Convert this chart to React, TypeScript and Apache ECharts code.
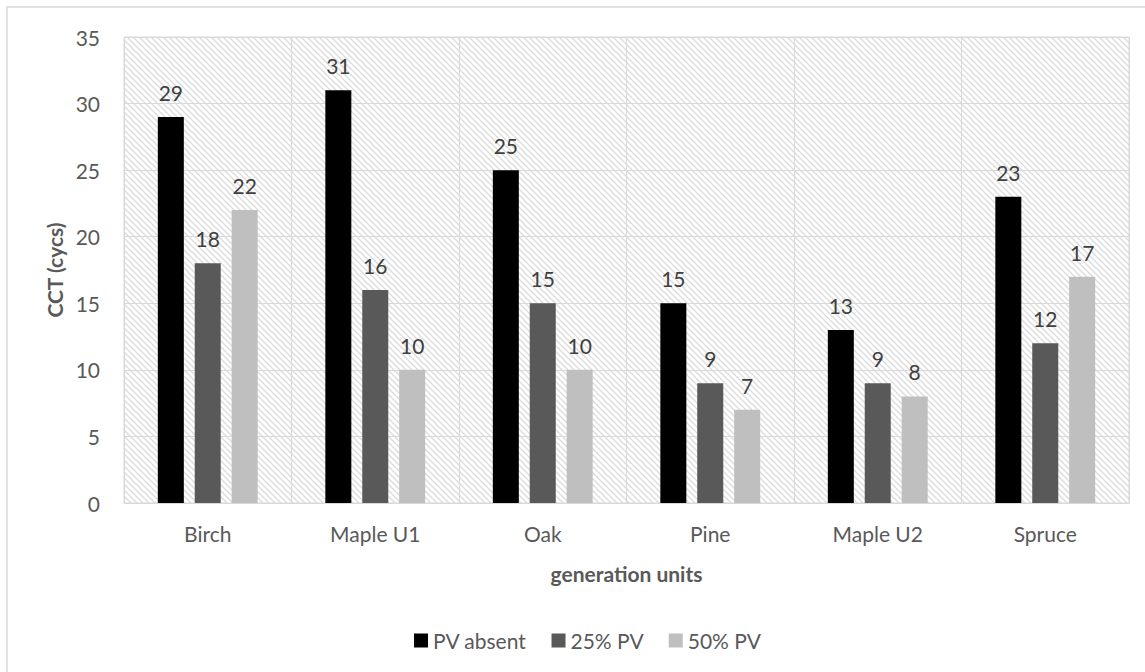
import React, { useEffect, useRef } from "react";
import * as echarts from "echarts";

const categories = ["Birch", "Maple U1", "Oak", "Pine", "Maple U2", "Spruce"];
const pvAbsent = [29, 31, 25, 15, 13, 23];
const pv25 = [18, 16, 15, 9, 9, 12];
const pv50 = [22, 10, 10, 7, 8, 17];
const seriesNames = ["PV absent", "25% PV", "50% PV"];
const seriesColors = ["#000000", "#595959", "#bfbfbf"];

const FONT = "Lato, 'Open Sans', sans-serif";

// Diagonal hatch tile for the plot background
function makeHatch(): HTMLCanvasElement {
  const size = 6;
  const c = document.createElement("canvas");
  c.width = size;
  c.height = size;
  const ctx = c.getContext("2d")!;
  const img = ctx.createImageData(size, size);
  for (let y = 0; y < size; y++) {
    for (let x = 0; x < size; x++) {
      const d = (((x - y) % size) + size) % size;
      let v = 255;
      if (d === 0) v = 220;
      else if (d === 1 || d === 5) v = 238;
      const i = (y * size + x) * 4;
      img.data[i] = v;
      img.data[i + 1] = v;
      img.data[i + 2] = v;
      img.data[i + 3] = 255;
    }
  }
  ctx.putImageData(img, 0, 0);
  return c;
}

export default function App() {
  const ref = useRef<HTMLDivElement>(null);

  useEffect(() => {
    if (!ref.current) return;
    const chart = echarts.init(ref.current, undefined, { renderer: "svg" });
    const hatch = makeHatch();
    const data = [pvAbsent, pv25, pv50];

    chart.setOption({
      animation: false,
      backgroundColor: "#ffffff",
      textStyle: { fontFamily: FONT },
      graphic: [
        {
          type: "rect",
          shape: { x: 7, y: 7, width: 1160, height: 700 },
          style: { fill: "none", stroke: "#d9d9d9", lineWidth: 1.5 },
          silent: true,
        },
      ],
      grid: {
        left: 124,
        top: 37,
        right: 16,
        bottom: 169,
        show: true,
        backgroundColor: { image: hatch, repeat: "repeat" } as any,
        borderColor: "#d9d9d9",
        borderWidth: 1,
      },
      legend: {
        left: 414,
        top: 630,
        padding: 0,
        itemWidth: 14,
        itemHeight: 14,
        itemGap: 25,
        icon: "rect",
        textStyle: { color: "#595959", fontSize: 21, fontFamily: FONT },
        data: seriesNames,
      },
      xAxis: {
        type: "category",
        data: categories,
        name: "generation units",
        nameLocation: "middle",
        nameGap: 60,
        nameTextStyle: {
          color: "#595959",
          fontSize: 21,
          fontWeight: "bold",
          fontFamily: FONT,
        },
        axisLine: { show: true, lineStyle: { color: "#d9d9d9", width: 1 } },
        axisTick: { show: false },
        axisLabel: { color: "#595959", fontSize: 21, margin: 20, fontFamily: FONT },
        splitLine: { show: true, lineStyle: { color: "#d9d9d9", width: 1 } },
      },
      yAxis: {
        type: "value",
        min: 0,
        max: 35,
        interval: 5,
        name: "CCT (cycs)",
        nameLocation: "middle",
        nameGap: 58,
        nameRotate: 90,
        nameTextStyle: {
          color: "#595959",
          fontSize: 21,
          fontWeight: "bold",
          fontFamily: FONT,
        },
        axisLine: { show: false },
        axisTick: { show: false },
        axisLabel: { color: "#595959", fontSize: 21, margin: 24, fontFamily: FONT },
        splitLine: { show: true, lineStyle: { color: "#d9d9d9", width: 1 } },
      },
      series: seriesNames.map((name, i) => ({
        name,
        type: "bar",
        data: data[i],
        barWidth: 26,
        barGap: "42%",
        itemStyle: { color: seriesColors[i] },
        label: {
          show: true,
          position: "top",
          distance: 14,
          color: "#404040",
          fontSize: 21,
          fontFamily: FONT,
        },
      })),
    });

    return () => chart.dispose();
  }, []);

  return (
    <div
      ref={ref}
      style={{ position: "fixed", left: 0, top: 0, width: 1145, height: 672 }}
    />
  );
}
